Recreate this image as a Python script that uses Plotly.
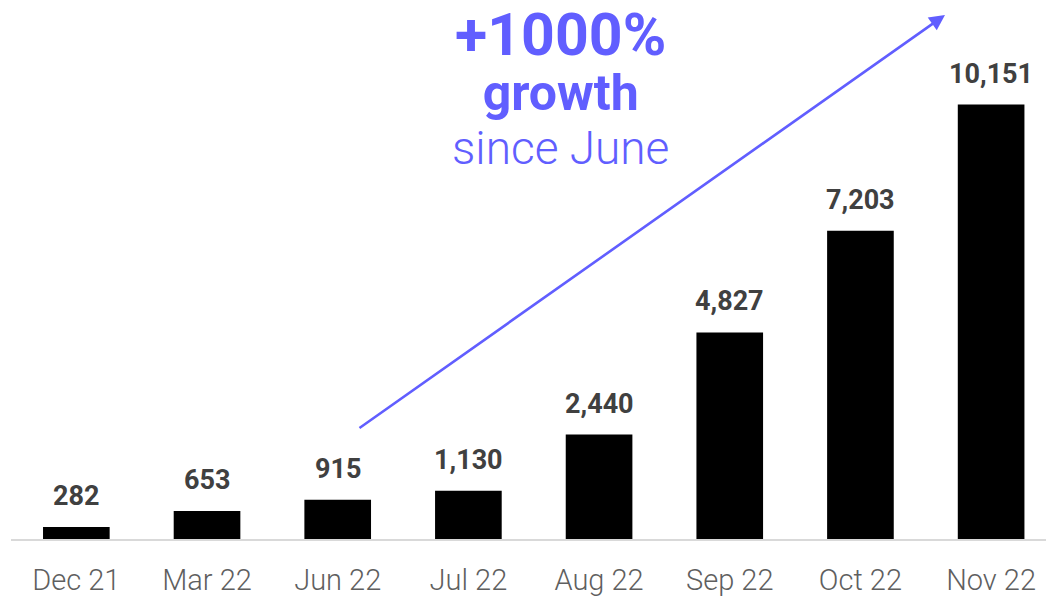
import plotly.graph_objects as go

categories = ["Dec 21", "Mar 22", "Jun 22", "Jul 22", "Aug 22", "Sep 22", "Oct 22", "Nov 22"]
values = [282, 653, 915, 1130, 2440, 4827, 7203, 10151]
value_labels = ["282", "653", "915", "1,130", "2,440", "4,827", "7,203", "10,151"]

headline = "+1000%"
subline1 = "growth"
subline2 = "since June"

PURPLE = "#615EFF"

fig = go.Figure()
fig.add_trace(go.Bar(
    x=list(range(len(categories))),
    y=values,
    marker=dict(color="#000000", line=dict(width=0)),
    width=0.51,
    hoverinfo="skip",
))

annotations = []
for i, (v, lab) in enumerate(zip(values, value_labels)):
    annotations.append(dict(
        x=i, y=v, xref="x", yref="y", text=lab, showarrow=False,
        yanchor="bottom", xanchor="center", yshift=13,
        font=dict(family="Roboto", size=27, color="#404040", weight=700),
    ))

# arrow
annotations.append(dict(
    x=(945 - 11) / 1035, y=1 - 15 / 539, xref="x domain", yref="y domain",
    ax=(358 - 11) / 1035, ay=1 - 429 / 539, axref="x domain", ayref="y domain",
    text="", showarrow=True, arrowhead=2, arrowsize=1.2, arrowwidth=2.6,
    arrowcolor=PURPLE, standoff=0,
))

callout = (
    f"<span style='font-size:59px;font-weight:700'>{headline}</span><br>"
    f"<span style='font-size:50px;font-weight:700'>{subline1}</span><br>"
    f"<span style='font-size:46px'>{subline2}</span>"
)
annotations.append(dict(
    x=(560 - 11) / 1035, y=1.0, xref="x domain", yref="y domain",
    text=callout, showarrow=False, xanchor="center", yanchor="top",
    align="center", yshift=2,
    font=dict(family="Roboto", size=42, color=PURPLE, weight=300),
))

fig.update_layout(
    width=1046, height=600,
    margin=dict(l=11, r=0, t=0, b=61),
    paper_bgcolor="white", plot_bgcolor="white",
    showlegend=False,
    bargap=0.49,
    annotations=annotations,
    xaxis=dict(
        range=[-0.5, 7.42],
        tickmode="array",
        tickvals=list(range(len(categories))),
        ticktext=categories,
        showgrid=False, zeroline=False,
        showline=True, linecolor="#D9D9D9", linewidth=2,
        ticks="", ticklabelstandoff=14,
        tickfont=dict(family="Roboto", size=29, color="#5F5F5F", weight=300),
        fixedrange=True,
    ),
    yaxis=dict(
        range=[0, 12593],
        visible=False, showgrid=False, zeroline=False,
        fixedrange=True,
    ),
)

fig.write_html("out.html")
